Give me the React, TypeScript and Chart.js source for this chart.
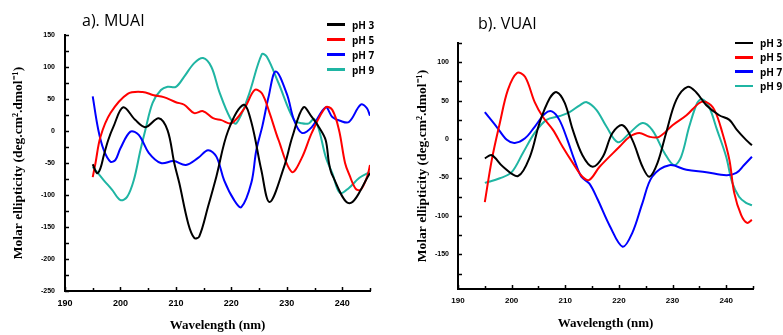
import React, { useEffect, useRef } from "react";
import { Chart, registerables } from "chart.js";

Chart.register(...registerables);

// ---------- data ----------
const SERIES_LABELS = ["pH 3", "pH 5", "pH 7", "pH 9"];
const SERIES_COLORS = ["#000000", "#ff0000", "#0000ff", "#1fb5a3"];

const X_TICKS = [190, 200, 210, 220, 230, 240];
const MUAI_Y_TICKS = [-250, -200, -150, -100, -50, 0, 50, 100, 150];
const VUAI_Y_TICKS = [-150, -100, -50, 0, 50, 100];

// a) MUAI
const MUAI_PH3_NM = [195, 195.8, 196.4, 197, 197.8, 198.7, 200.5, 202.7, 204.5, 206.9, 208.5, 209.7, 210.6, 212.2, 213.3, 214.2, 215.8, 217.3, 219.4, 222.2, 223.6, 225.4, 226.9, 229.5, 231, 233, 234.5, 235.8, 237, 237.6, 238.2, 241.3, 245];
const MUAI_PH3_CD = [-52, -66, -58, -38, -14, 6, 37, 17, 6, 20, 1, -50, -81, -144, -167, -165, -118, -71, 0, 41, 14, -61, -111, -56, -9, 37, 22, 6, -14, -50, -69, -113, -66];

const MUAI_PH5_NM = [195, 195.5, 196.4, 198.2, 201.3, 204, 206, 207.8, 210, 211.5, 213.3, 214.9, 216.7, 218.2, 220, 222.4, 224.2, 225.5, 226.9, 228.5, 230.9, 232.7, 234.5, 237, 238.2, 239.4, 240.5, 241.3, 242.4, 243.3, 244.5, 245];
const MUAI_PH5_CD = [-72, -50, -9, 28, 58, 61, 56, 53, 45, 41, 28, 31, 20, 17, 12, 36, 64, 59, 28, -14, -64, -42, -3, 37, 33, 2, -50, -69, -90, -92, -71, -53];

const MUAI_PH7_NM = [195, 196, 197, 198.2, 199.1, 200, 201.8, 203.3, 205.1, 207.3, 209.6, 211.8, 214, 215.8, 217.3, 218.7, 220.5, 221.8, 223.6, 224.5, 225.6, 226.7, 228, 230, 231.3, 232.7, 234.5, 237, 238.2, 239.6, 241.2, 243.3, 244.4, 245];
const MUAI_PH7_CD = [54, 2, -30, -48, -45, -27, -1, -6, -34, -50, -47, -53, -42, -30, -40, -77, -108, -119, -81, -30, 8, 53, 93, 58, 17, -3, 6, 37, 22, 16, 14, 41, 36, 24];

const MUAI_PH9_NM = [195, 197, 198.5, 200, 201.2, 202.4, 203.6, 204.5, 205.8, 207.3, 208.5, 210, 211.5, 213.3, 214.9, 216.4, 217.8, 219.8, 220.9, 223, 225.5, 226.4, 228.5, 231.3, 232.7, 234, 234.9, 235.8, 237, 238.2, 239.6, 241.2, 243.1, 245];
const MUAI_PH9_CD = [-56, -77, -92, -108, -103, -77, -30, 2, 44, 64, 69, 69, 85, 106, 114, 100, 62, 20, 12, 53, 120, 116, 75, 17, 12, 12, 19, 2, -40, -66, -97, -89, -73, -64];

// b) VUAI
const VUAI_PH3_NM = [195, 196.3, 198.4, 201.2, 203.4, 205.2, 207.1, 208.4, 209.9, 211.4, 213.2, 215.1, 217, 218.8, 220.7, 222.5, 224.4, 225.7, 227.2, 228.8, 230.7, 232.8, 234.4, 236.3, 238.7, 240.6, 242, 243.7, 244.8];
const VUAI_PH3_CD = [-25, -21, -36, -48, -23, 21, 53, 61, 47, 12, -21, -36, -23, 8, 18, -1, -36, -49, -31, 8, 51, 68, 61, 44, 31, 25, 12, -1, -8];

const VUAI_PH5_NM = [195, 196.3, 197.8, 199.3, 201, 202.5, 204.3, 205.8, 207.7, 209.5, 211.4, 213.2, 214.5, 216.4, 220.1, 222, 223.8, 225.7, 227.5, 230, 232.6, 235, 236.3, 237.8, 239.3, 240.6, 241.5, 242.8, 243.9, 244.8];
const VUAI_PH5_CD = [-82, -27, 21, 64, 86, 81, 48, 29, 12, -10, -31, -49, -53, -36, -10, 3, 8, 3, 3, 18, 31, 47, 48, 38, 8, -27, -70, -99, -109, -105];

const VUAI_PH7_NM = [195, 197.2, 199.1, 200.6, 202.5, 204.3, 206.2, 207.5, 208.9, 210.4, 211.7, 213, 214.5, 216, 218.3, 220.7, 222.5, 224.4, 226.2, 229.4, 232.6, 236.3, 240, 241.9, 243.3, 244.8];
const VUAI_PH7_CD = [35, 16, -1, -5, 1, 16, 33, 36, 25, -1, -27, -49, -58, -78, -113, -140, -122, -83, -49, -34, -40, -43, -47, -44, -34, -23];

const VUAI_PH9_NM = [195, 197.8, 200, 202.1, 204.3, 206.5, 209, 210.8, 212.7, 214, 215.8, 217.7, 219.8, 222, 224.4, 226.2, 228.5, 230.3, 231.6, 233.1, 234.6, 235.5, 236.8, 238.3, 240, 241.1, 242.4, 243.7, 244.8];
const VUAI_PH9_CD = [-57, -51, -43, -18, 8, 25, 30, 35, 44, 48, 38, 16, -4, 8, 21, 12, -18, -34, -23, 16, 47, 52, 42, 12, -23, -56, -75, -83, -86];

// ---------- helpers ----------
const pts = (xs: number[], ys: number[]) => xs.map((x, i) => ({ x, y: ys[i] }));

const inwardTicks = {
  id: "inwardTicks",
  afterDraw(chart: any, _args: any, opts: any) {
    const { ctx, chartArea, scales } = chart;
    const xs = scales.x;
    const ys = scales.y;
    ctx.save();
    ctx.strokeStyle = "#000";
    ctx.lineWidth = 1.5;
    for (let v = xs.min; v <= xs.max + 1e-6; v += opts.xStep) {
      const px = Math.round(xs.getPixelForValue(v)) + 0.5;
      const len = Math.round(v) % 10 === 0 ? 4 : 3;
      ctx.beginPath();
      ctx.moveTo(px, chartArea.bottom);
      ctx.lineTo(px, chartArea.bottom - len);
      ctx.stroke();
    }
    const start = Math.ceil(ys.min / opts.yStep) * opts.yStep;
    for (let v = start; v <= ys.max + 1e-6; v += opts.yStep) {
      const py = Math.round(ys.getPixelForValue(v)) + 0.5;
      ctx.beginPath();
      ctx.moveTo(chartArea.left, py);
      ctx.lineTo(chartArea.left + 4, py);
      ctx.stroke();
    }
    ctx.restore();
  },
};

type PanelCfg = {
  series: { x: number[]; y: number[] }[];
  yMin: number;
  yMax: number;
  yTicks: number[];
  padTop: number;
  padRight: number;
  yWidth: number;
  xHeight: number;
  yTitlePad: number;
  xTitlePad: number;
  xTickSize: number;
  yTickPad: number;
};

function buildConfig(c: PanelCfg): any {
  return {
    type: "line",
    data: {
      datasets: c.series.map((s, i) => ({
        label: SERIES_LABELS[i],
        data: pts(s.x, s.y),
        borderColor: SERIES_COLORS[i],
        backgroundColor: SERIES_COLORS[i],
        borderWidth: 2,
        pointRadius: 0,
        tension: 0.35,
        fill: false,
      })),
    },
    options: {
      animation: false,
      responsive: false,
      maintainAspectRatio: false,
      events: [],
      layout: { padding: { top: c.padTop, right: c.padRight, left: 0, bottom: 0 } },
      plugins: {
        legend: { display: false },
        tooltip: { enabled: false },
        inwardTicks: { xStep: 5, yStep: 25 },
      },
      scales: {
        x: {
          type: "linear",
          min: 190,
          max: 245,
          afterBuildTicks: (s: any) => {
            s.ticks = X_TICKS.map((v) => ({ value: v }));
          },
          afterFit: (s: any) => {
            s.height = c.xHeight;
          },
          grid: { display: false, drawTicks: false },
          border: { display: true, color: "#000", width: 2 },
          ticks: {
            color: "#000",
            padding: 7,
            maxRotation: 0,
            font: { family: "Liberation Sans", weight: "bold", size: c.xTickSize },
          },
          title: {
            display: true,
            text: "Wavelength (nm)",
            color: "#000",
            padding: { top: 0, bottom: c.xTitlePad },
            font: { family: "Liberation Serif", weight: "bold", size: 13 },
          },
        },
        y: {
          type: "linear",
          min: c.yMin,
          max: c.yMax,
          afterBuildTicks: (s: any) => {
            s.ticks = c.yTicks.map((v) => ({ value: v }));
          },
          afterFit: (s: any) => {
            s.width = c.yWidth;
          },
          grid: { display: false, drawTicks: false },
          border: { display: true, color: "#000", width: 2 },
          ticks: {
            color: "#000",
            padding: c.yTickPad,
            font: { family: "Liberation Sans", weight: "bold", size: 7 },
          },
          title: {
            display: true,
            text: "Molar ellipticity (deg.cm\u00B2.dmol\u207B\u00B9)",
            color: "#000",
            padding: { top: c.yTitlePad, bottom: 0 },
            font: { family: "Liberation Serif", weight: "bold", size: 13.5 },
          },
        },
      },
    },
    plugins: [inwardTicks],
  };
}

const MUAI_CFG: PanelCfg = {
  series: [
    { x: MUAI_PH3_NM, y: MUAI_PH3_CD },
    { x: MUAI_PH5_NM, y: MUAI_PH5_CD },
    { x: MUAI_PH7_NM, y: MUAI_PH7_CD },
    { x: MUAI_PH9_NM, y: MUAI_PH9_CD },
  ],
  yMin: -250,
  yMax: 150,
  yTicks: MUAI_Y_TICKS,
  padTop: 35,
  padRight: 20,
  yWidth: 65,
  xHeight: 44,
  yTitlePad: 10,
  xTitlePad: 2,
  xTickSize: 9,
  yTickPad: 10,
};

const VUAI_CFG: PanelCfg = {
  series: [
    { x: VUAI_PH3_NM, y: VUAI_PH3_CD },
    { x: VUAI_PH5_NM, y: VUAI_PH5_CD },
    { x: VUAI_PH7_NM, y: VUAI_PH7_CD },
    { x: VUAI_PH9_NM, y: VUAI_PH9_CD },
  ],
  yMin: -195,
  yMax: 125,
  yTicks: VUAI_Y_TICKS,
  padTop: 43,
  padRight: 30,
  yWidth: 68,
  xHeight: 46,
  yTitlePad: 24,
  xTitlePad: 4,
  xTickSize: 8,
  yTickPad: 9,
};

function Panel({ cfg, left, width }: { cfg: PanelCfg; left: number; width: number }) {
  const ref = useRef<HTMLCanvasElement>(null);
  useEffect(() => {
    const chart = new Chart(ref.current as HTMLCanvasElement, buildConfig(cfg));
    return () => chart.destroy();
  }, [cfg]);
  return (
    <canvas
      ref={ref}
      width={width}
      height={335}
      style={{ position: "absolute", left, top: 0, width, height: 335 }}
    />
  );
}

function Legend({ left, top, gap }: { left: number; top: number; gap: number }) {
  return (
    <div style={{ position: "absolute", left, top }}>
      {SERIES_LABELS.map((lab, i) => (
        <div
          key={lab}
          style={{ display: "flex", alignItems: "center", height: gap }}
        >
          <div style={{ width: 18, height: 2.5, background: SERIES_COLORS[i], marginRight: 7 }} />
          <span
            style={{
              fontFamily: "'Open Sans', 'Liberation Sans', sans-serif",
              fontWeight: 700,
              fontSize: 10,
              color: "#000",
              whiteSpace: "nowrap",
            }}
          >
            {lab}
          </span>
        </div>
      ))}
    </div>
  );
}

const titleStyle: React.CSSProperties = {
  position: "absolute",
  fontFamily: "'Open Sans', 'Liberation Sans', sans-serif",
  fontSize: 16,
  color: "#000",
  whiteSpace: "nowrap",
  lineHeight: "20px",
};

export default function App() {
  return (
    <div
      style={{
        position: "fixed",
        left: 0,
        top: 0,
        width: 783,
        height: 335,
        background: "#fff",
        overflow: "hidden",
      }}
    >
      <Panel cfg={MUAI_CFG} left={0} width={390} />
      <Panel cfg={VUAI_CFG} left={390} width={393} />
      <div style={{ ...titleStyle, left: 82, top: 10 }}>a). MUAI</div>
      <div style={{ ...titleStyle, left: 478, top: 13 }}>b). VUAI</div>
      <Legend left={327} top={17} gap={15} />
      <Legend left={735} top={36} gap={14.3} />
    </div>
  );
}
